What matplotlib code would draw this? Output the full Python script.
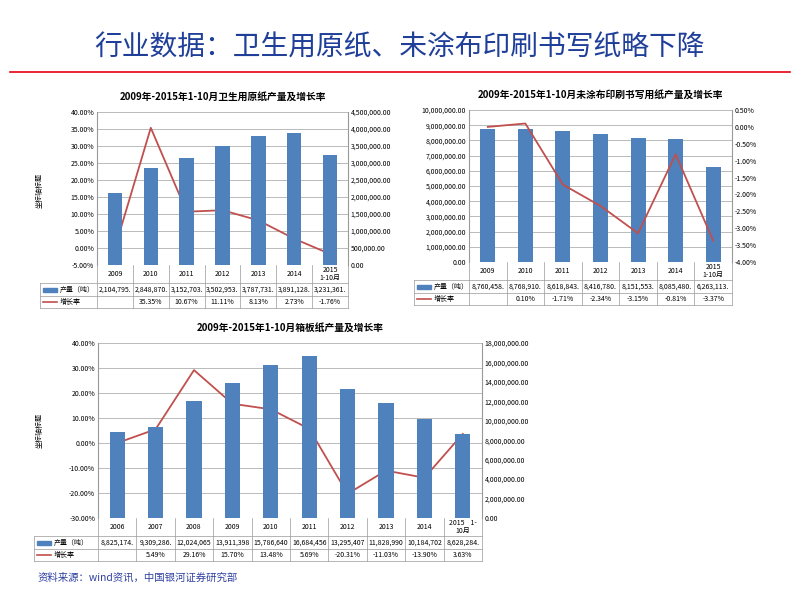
import matplotlib
matplotlib.use("Agg")
import matplotlib.pyplot as plt
import numpy as np

plt.rcParams["font.family"] = ["Noto Sans CJK SC", "DejaVu Sans"]

# Chart 1
c1_years = ["2009", "2010", "2011", "2012", "2013", "2014", "2015\n1-10月"]
c1_prod = [2104795, 2848870, 3152703, 3502953, 3787731, 3891128, 3231361]
c1_prod_lbl = ["2,104,795.", "2,848,870.", "3,152,703.", "3,502,953.", "3,787,731.", "3,891,128.", "3,231,361."]
c1_growth = [0.0, 35.35, 10.67, 11.11, 8.13, 2.73, -1.76]
c1_growth_lbl = ["", "35.35%", "10.67%", "11.11%", "8.13%", "2.73%", "-1.76%"]
# Chart 2
c2_years = ["2009", "2010", "2011", "2012", "2013", "2014", "2015\n1-10月"]
c2_prod = [8760458, 8768910, 8618843, 8416780, 8151553, 8085480, 6263113]
c2_prod_lbl = ["8,760,458.", "8,768,910.", "8,618,843.", "8,416,780.", "8,151,553.", "8,085,480.", "6,263,113."]
c2_growth = [0.0, 0.10, -1.71, -2.34, -3.15, -0.81, -3.37]
c2_growth_lbl = ["", "0.10%", "-1.71%", "-2.34%", "-3.15%", "-0.81%", "-3.37%"]
# Chart 3
c3_years = ["2006", "2007", "2008", "2009", "2010", "2011", "2012", "2013", "2014", "2015    1-\n10月"]
c3_prod = [8825174, 9309286, 12024065, 13911398, 15786640, 16684456, 13295407, 11828990, 10184702, 8628284]
c3_prod_lbl = ["8,825,174.", "9,309,286.", "12,024,065", "13,911,398", "15,786,640", "16,684,456", "13,295,407", "11,828,990", "10,184,702", "8,628,284."]
c3_growth = [0.0, 5.49, 29.16, 15.70, 13.48, 5.69, -20.31, -11.03, -13.90, 3.63]
c3_growth_lbl = ["", "5.49%", "29.16%", "15.70%", "13.48%", "5.69%", "-20.31%", "-11.03%", "-13.90%", "3.63%"]

BLUE = "#4f81bd"
RED = "#c0504d"
W, H = 800, 600
fig = plt.figure(figsize=(8, 6), dpi=100)
ov = fig.add_axes([0, 0, 1, 1], zorder=-1)
ov.set_xlim(0, W); ov.set_ylim(H, 0); ov.axis("off")

ov.text(400, 48, "行业数据：卫生用原纸、未涂布印刷书写纸略下降", ha="center", va="center",
        fontsize=20, color="#1f3f99")
ov.plot([10, 790], [72, 72], color="#e60012", lw=1.2)
ov.text(38, 578, "资料来源：wind资讯，中国银河证券研究部", fontsize=7.5, color="#3040a0",
        style="italic", va="center")


def fax(l, t, r, b):
    return fig.add_axes([l / W, 1 - b / H, (r - l) / W, (b - t) / H])


def chart(box, tleft, tbot, title, cats, prod, prod_lbl, gr, gr_lbl,
          bar_left, ylimL, ylimR, ticksL, ticksR, fmtL, fmtR, fs=5):
    l, t, r, b = box
    ax = fax(l, t, r, b)
    ax2 = ax.twinx()
    n = len(cats)
    x = np.arange(n)
    bax, lax = (ax, ax2) if bar_left else (ax2, ax)
    bax.bar(x, prod, width=0.4, color=BLUE, zorder=2)
    lax.plot(x, gr, color=RED, lw=1.3, zorder=3)
    for a in (ax, ax2):
        a.set_xlim(-0.5, n - 0.5)
        for s in a.spines.values():
            s.set_visible(False)
        a.tick_params(length=0, labelsize=fs, pad=2)
    ax.set_xticks([])
    ax.set_ylim(*ylimL); ax.set_yticks(ticksL)
    ax2.set_ylim(*ylimR); ax2.set_yticks(ticksR)
    ax.set_yticklabels([fmtL(v) for v in ticksL])
    ax2.set_yticklabels([fmtR(v) for v in ticksR])
    ax.grid(axis="y", color="#b0b0b0", lw=0.6, zorder=0)
    ax.set_axisbelow(True)
    ax.spines["left"].set_visible(True); ax.spines["left"].set_color("#999")
    ax.spines["right"].set_visible(True); ax.spines["right"].set_color("#999")
    ax.set_title(title, fontsize=7, fontweight="bold", pad=8)
    # table
    cw = (r - l) / n
    r1 = b + 18; r2 = r1 + 13; r3 = r2 + 12
    lc = "#999"
    for yy in (r1, r2, r3):
        ov.plot([tleft if yy != b else l, r], [yy, yy], color=lc, lw=0.5)
    ov.plot([tleft, tleft], [r1, r3], color=lc, lw=0.5)
    for i in range(n + 1):
        ov.plot([l + i * cw] * 2, [b, r3], color=lc, lw=0.5)
    for i in range(n):
        cx = l + (i + 0.5) * cw
        ov.text(cx, (b + r1) / 2, cats[i], ha="center", va="center", fontsize=fs, linespacing=1.1)
        ov.text(cx, (r1 + r2) / 2, prod_lbl[i], ha="center", va="center", fontsize=fs)
        ov.text(cx, (r2 + r3) / 2, gr_lbl[i], ha="center", va="center", fontsize=fs)
    ov.add_patch(plt.Rectangle((tleft + 3, (r1 + r2) / 2 - 2), 14, 4, color=BLUE))
    ov.text(tleft + 20, (r1 + r2) / 2, "产量（吨）", va="center", fontsize=fs)
    ov.plot([tleft + 3, tleft + 17], [(r2 + r3) / 2] * 2, color=RED, lw=1.2)
    ov.text(tleft + 20, (r2 + r3) / 2, "增长率", va="center", fontsize=fs)
    return ax


pct = lambda v: f"{v:.2f}%"
num = lambda v: f"{v:,.2f}"

chart((97, 112, 348, 265), 40, 0, "2009年-2015年1-10月卫生用原纸产量及增长率",
      c1_years, c1_prod, c1_prod_lbl, c1_growth, c1_growth_lbl, False,
      (-5, 40), (0, 4500000), np.arange(-5, 41, 5), np.arange(0, 4500001, 500000), pct, num)
ov.text(40, 190, "坐标轴标题", rotation=90, ha="center", va="center", fontsize=5)

chart((469, 110, 732, 262), 414, 0, "2009年-2015年1-10月未涂布印刷书写用纸产量及增长率",
      c2_years, c2_prod, c2_prod_lbl, c2_growth, c2_growth_lbl, True,
      (0, 10000000), (-4, 0.5), np.arange(0, 10000001, 1000000), np.arange(-4, 0.51, 0.5), num, pct)

chart((98, 343, 482, 518), 34, 0, "2009年-2015年1-10月箱板纸产量及增长率",
      c3_years, c3_prod, c3_prod_lbl, c3_growth, c3_growth_lbl, False,
      (-30, 40), (0, 18000000), np.arange(-30, 41, 10), np.arange(0, 18000001, 2000000), pct, num)
ov.text(40, 430, "坐标轴标题", rotation=90, ha="center", va="center", fontsize=5)

fig.savefig("out.png", dpi=100)
